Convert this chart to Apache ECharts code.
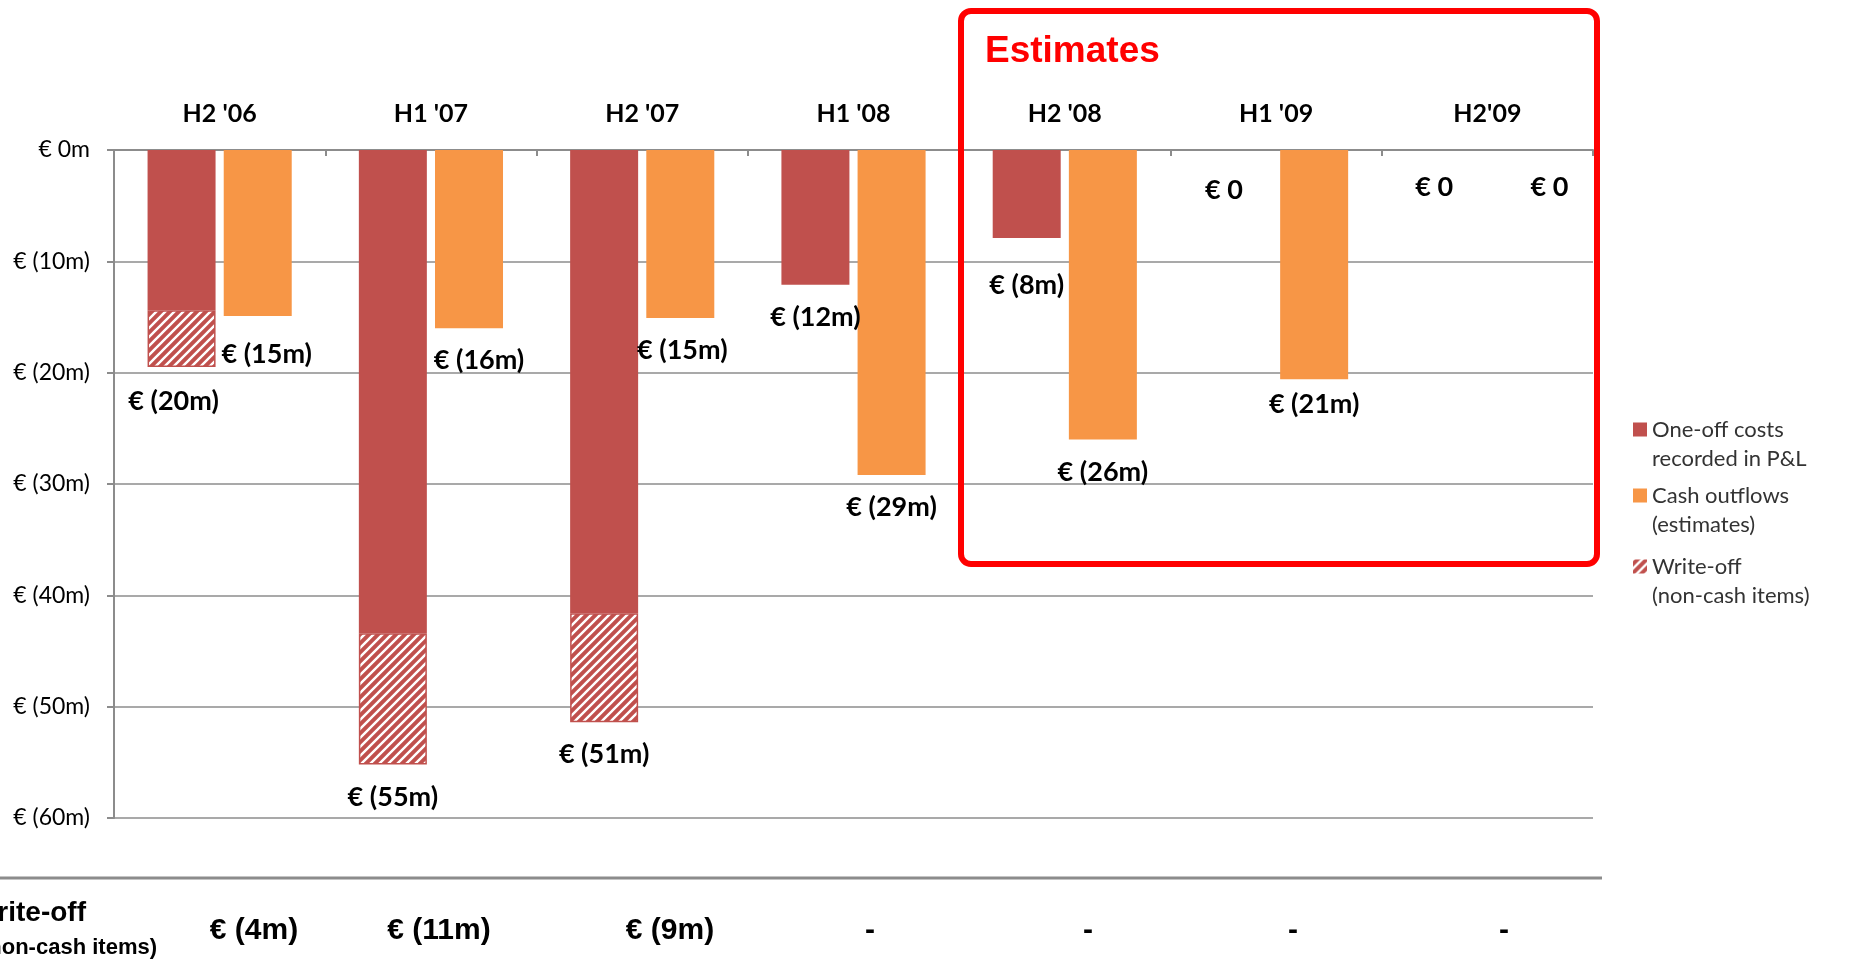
<!DOCTYPE html>
<html>
<head>
<meta charset="utf-8">
<title>One-off costs and cash outflows</title>
<script src="https://cdn.jsdelivr.net/npm/echarts@6.0.0/dist/echarts.min.js"></script>
<style>
html, body { margin: 0; padding: 0; background: #fff; }
#chart { width: 1850px; height: 974px; }
</style>
</head>
<body>
<div id="chart"></div>
<script>
// data (€m, costs are negative)
var categories = ["H2 '06", "H1 '07", "H2 '07", "H1 '08", "H2 '08", "H1 '09", "H2'09"];
var oneOffCosts = [-14.4, -43.4, -41.6, -12.1, -7.9, 0, 0];
var writeOffs = [-5.1, -11.8, -9.8, 0, 0, 0, 0];
var cashOutflows = [-14.9, -16.0, -15.1, -29.2, -26.0, -20.6, 0];
var writeOffTable = ['€ (4m)', '€ (11m)', '€ (9m)', '-', '-', '-', '-'];
var yMin = -60, yMax = 0, yStep = 10;

// small label nudges so labels sit where they sit in the original slide
var redNudge = [[-8, 2], [0, 0], [0, 0], [0, 0], [0, 15], [-14, 8], [-15, 5]];
var orangeNudge = [[9, 6], [10, 0], [2, 0], [0, 0], [0, 0], [0, -8], [24, 5]];
var tableX = [254, 439, 670, 870, 1088, 1293, 1504];

var RED = '#C0504D', ORANGE = '#F79646', GRID = '#8c8c8c';
var NAME_RED = 'One-off costs\nrecorded in P&L';
var NAME_ORANGE = 'Cash outflows\n(estimates)';
var NAME_HATCH = 'Write-off\n(non-cash items)';

function money(v) {
    var n = Math.round(Math.abs(v));
    return n === 0 ? '€ 0' : '€ (' + n + 'm)';
}

// hatch tile: red with white diagonal stripes
function hatchTile() {
    var s = 9;
    var c = document.createElement('canvas');
    c.width = s; c.height = s;
    var g = c.getContext('2d');
    g.fillStyle = RED;
    g.fillRect(0, 0, s, s);
    g.strokeStyle = '#fff';
    g.lineWidth = 2.4;
    g.beginPath();
    g.moveTo(-1, s + 1); g.lineTo(s + 1, -1);
    g.moveTo(-1, 1); g.lineTo(1, -1);
    g.moveTo(s - 1, s + 1); g.lineTo(s + 1, s - 1);
    g.stroke();
    return c;
}
var hatch = { image: hatchTile(), repeat: 'repeat' };

var labelBase = {
    position: 'bottom',
    distance: 19,
    color: '#000',
    fontFamily: 'Lato',
    fontWeight: 'bold',
    fontSize: 27
};

var redData = oneOffCosts.map(function (v, i) {
    return {
        value: v,
        label: { show: writeOffs[i] === 0, offset: redNudge[i], formatter: money(v + writeOffs[i]) }
    };
});
var hatchData = writeOffs.map(function (v, i) {
    if (v === 0) return '-';
    return {
        value: v,
        label: { show: true, offset: redNudge[i], formatter: money(oneOffCosts[i] + v) }
    };
});
var orangeData = cashOutflows.map(function (v, i) {
    return { value: v, label: { show: true, offset: orangeNudge[i], formatter: money(v) } };
});

// square icon sitting at the top of a 43px tall box, so it lines up with the first text line
var LEGEND_ICON = 'path://M0,0L14,0L14,14L0,14Z M0,43L0.01,43';

function legendFor(name, top) {
    return {
        data: [name],
        left: 1628,
        top: top,
        orient: 'vertical',
        icon: LEGEND_ICON,
        itemWidth: 14,
        itemHeight: 43,
        itemStyle: { borderWidth: 0 },
        selectedMode: false,
        textStyle: {
            fontFamily: 'Lato',
            fontSize: 22,
            lineHeight: 29,
            color: '#333'
        }
    };
}

var graphics = [
    {
        type: 'rect',
        shape: { x: 961, y: 11, width: 636, height: 553, r: 10 },
        style: { fill: 'none', stroke: '#ff0000', lineWidth: 6 },
        z: 100
    },
    {
        type: 'text',
        left: 985, top: 33,
        style: { text: 'Estimates', fill: '#ff0000', font: 'bold 37px "Liberation Sans"' },
        z: 100
    },
    {
        type: 'line',
        shape: { x1: 0, y1: 878, x2: 1602, y2: 878 },
        style: { stroke: GRID, lineWidth: 3 }
    },
    {
        type: 'text',
        x: 86, y: 913,
        style: { text: 'Write-off', fill: '#000', font: 'bold 28px "Liberation Sans"', textAlign: 'right', textVerticalAlign: 'middle' }
    },
    {
        type: 'text',
        x: 157, y: 948,
        style: { text: '(non-cash items)', fill: '#000', font: 'bold 22px "Liberation Sans"', textAlign: 'right', textVerticalAlign: 'middle' }
    }
];
writeOffTable.forEach(function (t, i) {
    graphics.push({
        type: 'text',
        x: tableX[i], y: 931,
        style: { text: t, fill: '#000', font: 'bold 30px "Liberation Sans"', textAlign: 'center', textVerticalAlign: 'middle' }
    });
});

var chart = echarts.init(document.getElementById('chart'));
chart.setOption({
    animation: false,
    backgroundColor: '#fff',
    grid: { left: 114, top: 150, width: 1479, height: 668, containLabel: false, outerBoundsMode: 'none' },
    legend: [
        legendFor(NAME_RED, 410),
        legendFor(NAME_ORANGE, 476),
        legendFor(NAME_HATCH, 547)
    ],
    xAxis: {
        type: 'category',
        position: 'top',
        data: categories,
        axisLine: { lineStyle: { color: GRID, width: 2 } },
        axisTick: { show: true, inside: true, length: 6, lineStyle: { color: GRID, width: 2 } },
        axisLabel: { margin: 24, color: '#000', fontFamily: 'Lato', fontWeight: 'bold', fontSize: 25 },
        splitLine: { show: false }
    },
    yAxis: {
        type: 'value',
        min: yMin,
        max: yMax,
        interval: yStep,
        axisLine: { show: true, lineStyle: { color: GRID, width: 2 } },
        axisTick: { show: true, length: 7, lineStyle: { color: GRID, width: 2 } },
        axisLabel: {
            margin: 24,
            color: '#000',
            fontFamily: 'Lato',
            fontSize: 23,
            formatter: function (v) { return v === 0 ? '€ 0m' : '€ (' + (-v) + 'm)'; }
        },
        splitLine: { lineStyle: { color: GRID, width: 1.5 } }
    },
    series: [
        {
            name: NAME_RED,
            type: 'bar',
            stack: 'pl',
            barWidth: 68,
            barGap: '12%',
            itemStyle: { color: RED },
            label: labelBase,
            data: redData
        },
        {
            name: NAME_HATCH,
            type: 'bar',
            stack: 'pl',
            barWidth: 68,
            itemStyle: { color: hatch, borderColor: RED, borderWidth: 1.5 },
            label: labelBase,
            data: hatchData
        },
        {
            name: NAME_ORANGE,
            type: 'bar',
            barWidth: 68,
            barGap: '12%',
            itemStyle: { color: ORANGE },
            label: labelBase,
            data: orangeData
        }
    ],
    graphic: graphics
});
</script>
</body>
</html>
